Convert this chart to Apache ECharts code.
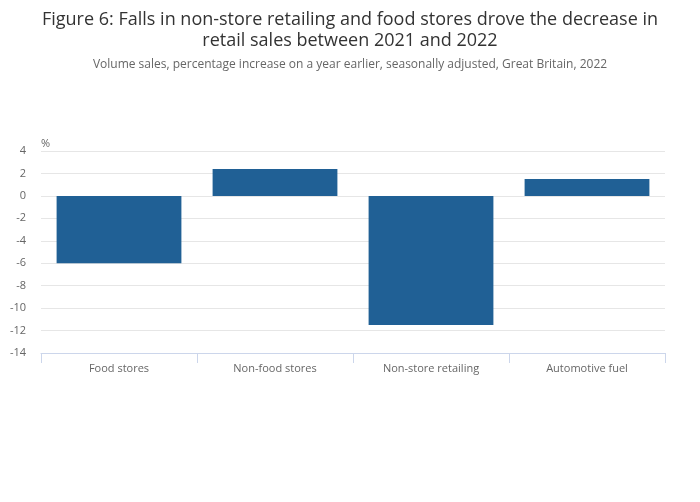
<!DOCTYPE html>
<html><head><meta charset="utf-8">
<script src="https://cdn.jsdelivr.net/npm/echarts@6/dist/echarts.min.js"></script>
<style>html,body{margin:0;padding:0;background:#fff}#c{width:700px;height:502px}</style>
</head><body><div id="c"></div>
<script>
const categories = ["Food stores", "Non-food stores", "Non-store retailing", "Automotive fuel"];
const values = [-6.0, 2.4, -11.5, 1.5];
const yTicks = [-14, -12, -10, -8, -6, -4, -2, 0, 2, 4];

const chart = echarts.init(document.getElementById('c'));
chart.setOption({
  animation: false,
  textStyle: { fontFamily: 'Open Sans' },
  title: {
    text: 'Figure 6: Falls in non-store retailing and food stores drove the decrease in\nretail sales between 2021 and 2022',
    subtext: 'Volume sales, percentage increase on a year earlier, seasonally adjusted, Great Britain, 2022',
    left: 345, top: 4, itemGap: 8,
    textAlign: 'center',
    textStyle: { fontFamily: 'Open Sans', fontSize: 18, fontWeight: 'normal', color: '#333333', lineHeight: 21 },
    subtextStyle: { fontFamily: 'Open Sans', fontSize: 12, color: '#666666' }
  },
  grid: { left: 41, right: 35, top: 151, bottom: 149 },
  xAxis: {
    type: 'category', data: categories,
    axisLine: { onZero: false, lineStyle: { color: '#ccd6eb' } },
    axisTick: { show: true, length: 10, lineStyle: { color: '#ccd6eb' } },
    axisLabel: { color: '#666666', fontSize: 11, margin: 10 }
  },
  yAxis: {
    type: 'value', min: yTicks[0], max: yTicks[yTicks.length - 1], interval: 2,
    name: '%', nameLocation: 'end', nameGap: 2,
    nameTextStyle: { color: '#666666', fontSize: 11, align: 'left', padding: [0, 0, 0, 0] },
    axisLine: { show: false }, axisTick: { show: false },
    axisLabel: { color: '#666666', fontSize: 11, margin: 15 },
    splitLine: { lineStyle: { color: '#e6e6e6' } }
  },
  series: [{
    type: 'bar', data: values, barWidth: '80%',
    itemStyle: { color: '#206095' }
  }]
});
</script></body></html>
